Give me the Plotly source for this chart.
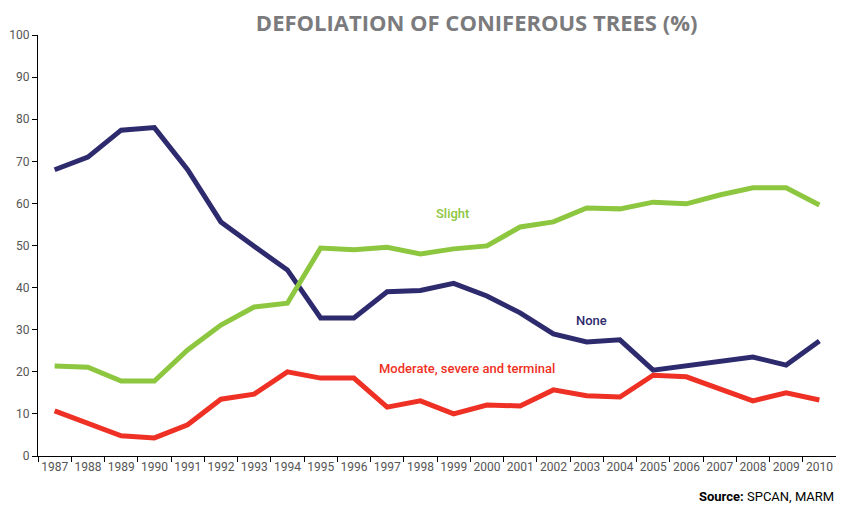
import plotly.graph_objects as go

years = [str(y) for y in range(1987, 2011)]

none = [68, 71, 77.4, 78, 68, 55.6, 49.8, 44.2, 32.8, 32.8, 39, 39.3, 41, 38,
        34, 29, 27.1, 27.6, 20.4, 21.4, 22.3, 23.5, 21.6, 27.3]
slight = [21.4, 21.1, 17.8, 17.8, 25.2, 31.1, 35.4, 36.3, 49.4, 49, 49.6, 48,
          49.2, 49.9, 54.4, 55.6, 58.9, 58.7, 60.3, 59.9, 62, 63.7, 63.7, 59.6]
moderate = [10.7, 7.6, 4.8, 4.3, 7.4, 13.5, 14.7, 20, 18.5, 18.5, 11.6, 13.1,
            10, 12.1, 11.9, 15.7, 14.3, 14, 19.2, 18.8, 16, 13.1, 15, 13.3]

navy = "#2e2a6e"
green = "#8dc63f"
red = "#ee3124"

fig = go.Figure()
fig.add_trace(go.Scatter(x=years, y=none, mode="lines", name="None",
                         line=dict(color=navy, width=5)))
fig.add_trace(go.Scatter(x=years, y=slight, mode="lines", name="Slight",
                         line=dict(color=green, width=5)))
fig.add_trace(go.Scatter(x=years, y=moderate, mode="lines", name="Moderate, severe and terminal",
                         line=dict(color=red, width=5)))

# line labels
lab_font = dict(size=13, weight=500)
fig.add_annotation(text="Slight", x=0.519, y=0.577, xref="paper", yref="paper",
                   yanchor="middle", showarrow=False, font=dict(color=green, **lab_font))
fig.add_annotation(text="None", x=0.716, y=0.323, xref="paper", yref="paper",
                   yanchor="middle", showarrow=False, font=dict(color=navy, **lab_font))
fig.add_annotation(text="Moderate, severe and terminal", x=0.538, y=0.209,
                   xref="paper", yref="paper", yanchor="middle", showarrow=False,
                   font=dict(color=red, **lab_font))
fig.add_annotation(text="<b>Source:</b> SPCAN, MARM", x=1.0, y=-0.097,
                   xref="paper", yref="paper", xanchor="right", yanchor="middle",
                   showarrow=False, font=dict(color="#000000", size=13))

# page body keeps its 8px margin, so the figure is kept small enough to fit the window
fig.update_layout(
    width=828, height=496,
    template="plotly_white",
    showlegend=False,
    font=dict(family="Roboto", color="#555555"),
    title=dict(text="<b>DEFOLIATION OF CONIFEROUS TREES (%)</b>", x=0.566, y=0.969,
               xanchor="center", yanchor="middle",
               font=dict(family="Open Sans", size=22, color="#7b7b7e")),
    margin=dict(l=30, r=0, t=27, b=48),
    plot_bgcolor="white",
)
fig.update_xaxes(type="category", range=[-0.5, 23.5], showgrid=False, showline=True,
                 linecolor="black", linewidth=1, ticks="outside", tickson="boundaries",
                 ticklen=5, tickcolor="black", tickangle=0,
                 tickfont=dict(size=12, color="#555555"), zeroline=False)
fig.update_yaxes(range=[0, 100], dtick=10, showgrid=False, showline=True,
                 linecolor="black", linewidth=1, ticks="outside", ticklen=5,
                 tickcolor="black", tickfont=dict(size=12, color="#555555"),
                 zeroline=False)

fig.write_html("out.html")
